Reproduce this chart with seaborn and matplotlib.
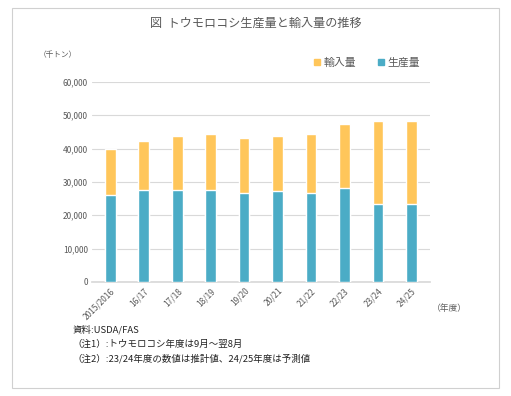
import pandas as pd
import matplotlib
matplotlib.use("Agg")
import matplotlib.pyplot as plt
from matplotlib.patches import Rectangle, Patch
import seaborn as sns

# data (thousand tons)
years = ["2015/2016", "16/17", "17/18", "18/19", "19/20",
         "20/21", "21/22", "22/23", "23/24", "24/25"]
production = [26000, 27550, 27550, 27550, 26650, 27250, 26650, 28100, 23400, 23500]
imports = [14000, 14650, 16250, 16750, 16550, 16550, 17650, 19300, 24800, 24700]

df = pd.DataFrame({"year": years, "production": production, "imports": imports})
df["total"] = df["production"] + df["imports"]

sns.set_theme(style="white")
plt.rcParams["font.family"] = ["Noto Sans CJK JP", "DejaVu Sans"]

YELLOW = "#FFC65A"
BLUE = "#4BACC6"
GRAY = "#595959"

fig = plt.figure(figsize=(5.11, 3.96), dpi=100)
ax = fig.add_axes([0.18, 0.288, 0.661, 0.505])

# stacked bars: total in yellow, production in blue on top of it
sns.barplot(data=df, x="year", y="total", color=YELLOW, width=0.32,
            saturation=1, ax=ax, zorder=3)
sns.barplot(data=df, x="year", y="production", color=BLUE, width=0.32,
            saturation=1, ax=ax, zorder=4)

ax.set_ylim(0, 60000)
ax.set_yticks(range(0, 60001, 10000))
ax.set_yticklabels([f"{v:,}" for v in range(0, 60001, 10000)], fontsize=6, color=GRAY)
ax.set_xticks(range(len(years)))
ax.set_xticklabels(years, rotation=45, ha="right", rotation_mode="anchor",
                   fontsize=6, color=GRAY)
ax.set_xlim(-0.55, len(years) - 0.45)
ax.set_xlabel("")
ax.set_ylabel("")
ax.grid(axis="y", color="#D9D9D9", linewidth=0.8, zorder=0)
for s in ["top", "right", "left"]:
    ax.spines[s].set_visible(False)
ax.spines["bottom"].set_color("#D9D9D9")
ax.tick_params(axis="both", length=0, pad=3)

# outer frame
fig.patches.append(Rectangle((12 / 511, 8 / 396), 487 / 511, 380 / 396,
                             transform=fig.transFigure, fill=False,
                             edgecolor="#D0D0D0", linewidth=0.8))

fig.text(0.5, 0.942, "図  トウモロコシ生産量と輸入量の推移", ha="center", va="center",
         fontsize=8.7, color=GRAY)
fig.text(0.075, 0.862, "（千トン）", ha="left", va="center", fontsize=5.5, color=GRAY)
fig.text(0.845, 0.222, "（年度）", ha="left", va="center", fontsize=6.3, color=GRAY)

handles = [Patch(color=YELLOW, label="輸入量"), Patch(color=BLUE, label="生産量")]
fig.legend(handles=handles, loc="center", bbox_to_anchor=(0.718, 0.842), ncol=2,
           frameon=False, fontsize=7.8, handlelength=0.55, handleheight=0.55,
           columnspacing=2.0, handletextpad=0.35, labelcolor=GRAY)

notes = ["資料:USDA/FAS",
         "（注1）:トウモロコシ年度は9月～翌8月",
         "（注2）:23/24年度の数値は推計値、24/25年度は予測値"]
for i, t in enumerate(notes):
    fig.text(0.142, 0.167 - i * 0.036, t, ha="left", va="center", fontsize=6.8, color="#222222")

fig.savefig("out.png", dpi=100)
